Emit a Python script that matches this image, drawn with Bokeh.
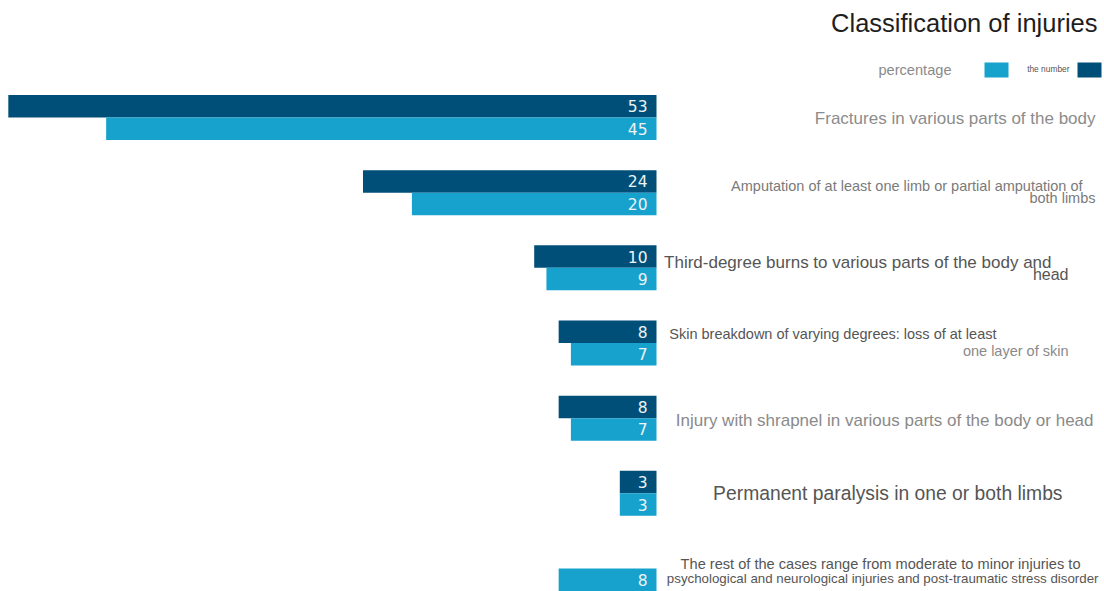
from bokeh.plotting import figure
from bokeh.models import Range1d, Label, BoxAnnotation, ColumnDataSource
from bokeh.core.properties import value
from bokeh.embed import file_html
from bokeh.resources import INLINE

# ---------------- data ----------------
categories = [
    "Fractures in various parts of the body",
    "Amputation of at least one limb or partial amputation of\nboth limbs",
    "Third-degree burns to various parts of the body and\nhead",
    "Skin breakdown of varying degrees: loss of at least\none layer of skin",
    "Injury with shrapnel in various parts of the body or head",
    "Permanent paralysis in one or both limbs",
    "The rest of the cases range from moderate to minor injuries to\npsychological and neurological injuries and post-traumatic stress disorder",
]
numbers = [53, 24, 10, 8, 8, 3, None]
percentages = [45, 20, 9, 7, 7, 3, 8]
title_text = "Classification of injuries"
legend_labels = ["percentage", "the number"]

# ---------------- style / layout ----------------
W, H = 1104, 591
DARK = "#004f78"
LIGHT = "#17a1cd"
FONT = value("Liberation Sans")
ppu = 12.23          # pixels per unit
x0 = 656             # pixel of value 0
row0, row_step = 117, 75.17
bar_h = 22.5 / row_step

# per-line styling: (right edge px, y offset px, font size, colour)
line_styles = [
    [(1095, 1, 17, "#8c8c8c")],
    [(1082, -7, 14.5, "#7a7a7a"), (1095, 5, 14.5, "#7a7a7a")],
    [(1051, -5, 17, "#555555"), (1068, 7, 16, "#555555")],
    [(996, -9, 14.5, "#555555"), (1068, 8, 14.5, "#8a8a8a")],
    [(1093, 2, 17, "#8a8a8a")],
    [(1062, 0, 19.3, "#555555")],
    [(1080, -5, 14.6, "#555555"), (1098, 10, 13.3, "#555555")],
]

p = figure(width=W, height=H,
           x_range=Range1d(x0 / ppu, -(W - x0) / ppu),
           y_range=Range1d((H - row0) / row_step, -row0 / row_step),
           output_backend="svg", toolbar_location=None,
           x_axis_location=None, y_axis_location=None,
           min_border=0, background_fill_color="white",
           border_fill_color="white")
p.grid.visible = False
p.outline_line_color = None

idx = list(range(len(categories)))
num_y = [i - bar_h / 2 for i, n in zip(idx, numbers) if n is not None]
num_v = [n for n in numbers if n is not None]
pct_y = [i + bar_h / 2 for i in idx]
pct_v = percentages

src_n = ColumnDataSource(dict(y=num_y, v=num_v, t=[str(v) for v in num_v]))
src_p = ColumnDataSource(dict(y=pct_y, v=pct_v, t=[str(v) for v in pct_v]))

p.hbar(y="y", left=0, right="v", height=bar_h, source=src_n,
       fill_color=DARK, line_color=None)
p.hbar(y="y", left=0, right="v", height=bar_h, source=src_p,
       fill_color=LIGHT, line_color=None)

for src in (src_n, src_p):
    p.text(x=0, y="y", text="t", source=src, x_offset=-9,
           text_align="right", text_baseline="middle",
           text_color="#eef3f6", text_font_size="15.5px",
           text_font=value("DejaVu Sans"))

# category labels
for i, (cat, styles) in enumerate(zip(categories, line_styles)):
    for line, (rx, dy, fs, col) in zip(cat.split("\n"), styles):
        p.text(x=[0], y=[i], text=[line], x_offset=rx - x0, y_offset=dy,
               text_align="right", text_baseline="middle",
               text_color=col, text_font_size=f"{fs}px", text_font=FONT)

# title
p.add_layout(Label(x=1097, y=H - 22, x_units="screen", y_units="screen",
                   text=title_text, text_align="right", text_baseline="middle",
                   text_font_size="25.5px", text_color="#1e1e1e", text_font="Liberation Sans"))

# legend
p.add_layout(BoxAnnotation(left=984, right=1008, bottom=H - 77, top=H - 62,
                           left_units="screen", right_units="screen",
                           bottom_units="screen", top_units="screen",
                           fill_color=LIGHT, fill_alpha=1, line_color=None))
p.add_layout(BoxAnnotation(left=1077, right=1101, bottom=H - 77, top=H - 62,
                           left_units="screen", right_units="screen",
                           bottom_units="screen", top_units="screen",
                           fill_color=DARK, fill_alpha=1, line_color=None))
p.add_layout(Label(x=951, y=H - 69, x_units="screen", y_units="screen",
                   text=legend_labels[0], text_align="right", text_baseline="middle",
                   text_font_size="14.6px", text_color="#8a8a8a", text_font="Liberation Sans"))
p.add_layout(Label(x=1069, y=H - 68, x_units="screen", y_units="screen",
                   text=legend_labels[1], text_align="right", text_baseline="middle",
                   text_font_size="8.4px", text_color="#555555", text_font="Liberation Sans"))

open("out.html", "w").write(file_html(p, INLINE))
